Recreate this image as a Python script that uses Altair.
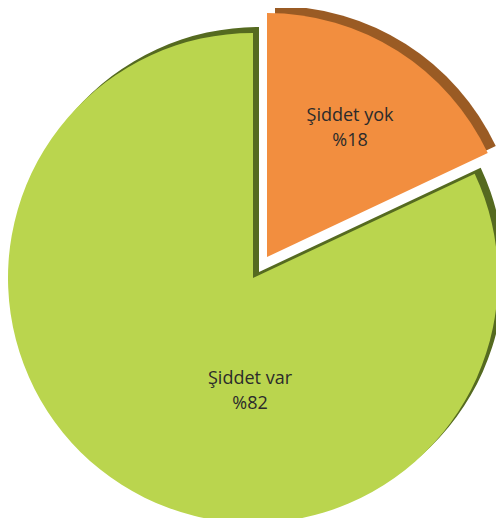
import altair as alt
import pandas as pd

categories = ["Şiddet yok", "Şiddet var"]
values = [18, 82]
order = [1, 2]
front_colors = ["#f28e3f", "#bad54e"]
shadow_colors = ["#9a5b24", "#556a20"]

df = pd.DataFrame({"category": categories, "value": values, "order": order})

base = alt.Chart(df)


def arc(cat, color, cx, cy, r):
    return base.mark_arc(radius=r).encode(
        theta=alt.Theta("value:Q", stack=True),
        order=alt.Order("order:Q"),
        x=alt.value(cx),
        y=alt.value(cy),
        fill=alt.value(color),
        fillOpacity=alt.condition(alt.datum.category == cat, alt.value(1), alt.value(0)),
    )


def label(cat, cx, cy):
    return (
        base.transform_filter(alt.datum.category == cat)
        .transform_calculate(lbl="datum.category + '\\n%' + datum.value")
        .mark_text(lineBreak="\n", lineHeight=25, font="Open Sans", fontSize=18,
                   color="#2b2b2b", align="center", baseline="middle")
        .encode(text="lbl:N", x=alt.value(cx), y=alt.value(cy))
    )


chart = alt.layer(
    arc(categories[1], shadow_colors[1], 251, 264, 245),
    arc(categories[1], front_colors[1], 245, 270, 245),
    arc(categories[0], shadow_colors[0], 267, 242, 244),
    arc(categories[0], front_colors[0], 259, 249, 244),
    label(categories[0], 342, 108),
    label(categories[1], 242, 371),
).properties(
    width=488, height=510, padding=0,
    autosize=alt.AutoSizeParams(type="none"),
).configure_view(stroke=None)

chart.save("out.html", embed_options={"renderer": "svg", "actions": False})
